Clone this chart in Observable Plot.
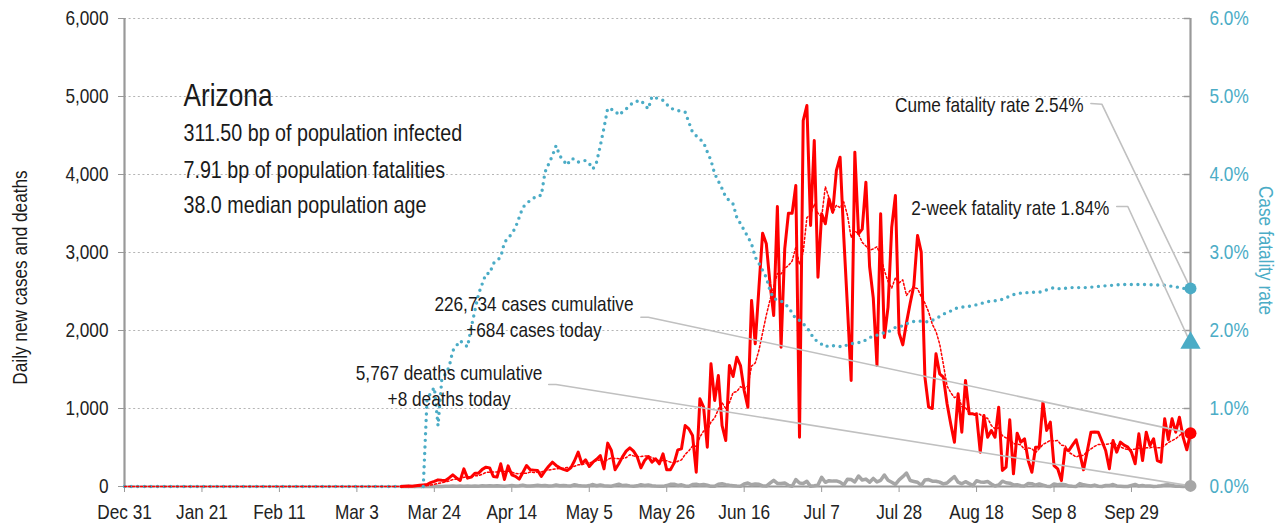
<!DOCTYPE html>
<html><head><meta charset="utf-8">
<script src="https://cdn.jsdelivr.net/npm/d3@7"></script>
<script src="https://cdn.jsdelivr.net/npm/@observablehq/plot@0.6"></script>
<style>html,body{margin:0;padding:0;background:#fff;} svg{display:block}</style>
</head><body><div id="chart"></div>
<script>
// ---------------- DATA ----------------
const seriesStart = "2020-03-15";
const dailyCases = [
  0, 2, 5, 4, 10,
  15, 20, 26, 50, 65,
  85, 80, 77, 110, 150,
  110, 77, 226, 107, 120,
  171, 171, 220, 248, 239,
  128, 120, 291, 90, 265,
  150, 130, 94, 180, 269,
  214, 210, 205, 128, 200,
  260, 312, 270, 239, 220,
  205, 239, 330, 440, 291,
  342, 256, 312, 350, 397,
  226, 556, 461, 214, 291,
  380, 453, 496, 453, 380,
  239, 333, 385, 312, 355,
  291, 419, 214, 214, 300,
  470, 483, 782, 739, 654,
  184, 1124, 1017, 504, 1573,
  1103, 1423, 782, 590, 1551,
  1410, 1658, 1551, 1231, 1017,
  2385, 1830, 2550, 3248, 3111,
  2600, 2192, 3590, 1786, 3050,
  3504, 3504, 3859, 632, 4692,
  4884, 3346, 4436, 2684, 3496,
  3368, 3688, 3517, 4051, 4222,
  3200, 2300, 1359, 4286, 3239,
  3300, 3901, 2820, 2415, 1551,
  3496, 1910, 2300, 3325, 3731,
  1966, 1816, 2100, 2350, 2577,
  3218, 3004, 1402, 1017, 1000,
  1701, 1445, 1402, 1060, 800,
  568, 1188, 696, 1359, 932,
  932, 915, 440, 910, 632,
  718, 632, 1017, 205, 248,
  855, 162, 684, 568, 611,
  333, 183, 504, 504, 1081,
  718, 825, 269, 227, 77,
  483, 461, 530, 598, 418,
  214, 450, 696, 700, 696,
  580, 461, 227, 590, 440,
  569, 530, 504, 440, 291,
  675, 333, 696, 525, 611,
  333, 312, 868, 600, 868,
  696, 889, 632, 470, 684
];
const dailyDeaths = [
  0,0,0,0,0,0,0,1,0,1,2,1,3,2,5,2,5,
  4,5,3,7,4,9,6,11,5,10,7,4,8,12,6,9,18,7,5,11,15,9,14,6,8,20,10,12,9,8,
  22,14,8,5,12,25,10,20,9,6,4,18,30,12,16,8,3,9,24,14,20,10,5,3,2,12,28,30,14,22,6,
  3,25,30,18,26,16,2,4,30,35,24,16,10,5,3,32,44,22,32,29,8,5,42,79,40,38,45,15,3,88,
  44,37,66,2,9,18,117,54,75,69,71,55,20,92,89,59,134,83,95,55,103,59,79,147,80,54,27,86,126,172,76,
  65,54,14,84,89,68,67,56,33,45,88,127,55,35,62,37,11,74,59,55,64,33,6,20,68,48,43,20,23,9,8,
  40,36,16,33,18,4,0,31,23,29,24,5,2,1,38,22,14,6,18,3,0,13,12,25,7,4,1,0,14,26,
  6,12,5,6,1,2,9,18,22,13,4,2,0,3,8
];
const cfrDates = [
  "2020-03-21","2020-03-22","2020-03-23","2020-03-24","2020-03-25","2020-03-26","2020-03-28","2020-03-29",
  "2020-03-31","2020-04-02","2020-04-03","2020-04-05","2020-04-07","2020-04-08","2020-04-09","2020-04-11",
  "2020-04-12","2020-04-14","2020-04-15","2020-04-17","2020-04-19","2020-04-21","2020-04-22","2020-04-23",
  "2020-04-25","2020-04-26","2020-04-27","2020-04-29","2020-04-30","2020-05-01","2020-05-02","2020-05-04",
  "2020-05-05","2020-05-06","2020-05-07","2020-05-08","2020-05-09","2020-05-10","2020-05-12","2020-05-13",
  "2020-05-15","2020-05-17","2020-05-19","2020-05-21","2020-05-22","2020-05-25","2020-05-27","2020-05-29",
  "2020-05-31","2020-06-02","2020-06-05","2020-06-06","2020-06-07","2020-06-08","2020-06-10","2020-06-11",
  "2020-06-13","2020-06-14","2020-06-15","2020-06-17","2020-06-18","2020-06-19","2020-06-20","2020-06-22",
  "2020-06-23","2020-06-24","2020-06-26","2020-06-28","2020-06-30","2020-07-01","2020-07-03","2020-07-05",
  "2020-07-08","2020-07-09","2020-07-11","2020-07-13","2020-07-14","2020-07-16","2020-07-18","2020-07-20",
  "2020-07-22","2020-07-23","2020-07-25","2020-07-27","2020-07-29","2020-07-31","2020-08-02","2020-08-03",
  "2020-08-05","2020-08-07","2020-08-09","2020-08-11","2020-08-12","2020-08-14","2020-08-16","2020-08-18",
  "2020-08-21","2020-08-23","2020-08-25","2020-08-28","2020-08-30","2020-09-02","2020-09-04","2020-09-06",
  "2020-09-08","2020-09-10","2020-09-12","2020-09-17","2020-09-21","2020-09-24","2020-09-26","2020-10-02",
  "2020-10-08","2020-10-11","2020-10-13","2020-10-15"
];
const cfrValues = [
  0, 1.1, 1.2, 1.27, 0.78, 1.36, 1.53, 1.74,
  1.87, 1.79, 2.04, 2.47, 2.73, 2.73, 2.86, 2.94,
  3.13, 3.24, 3.32, 3.58, 3.67, 3.73, 3.73, 4.03,
  4.24, 4.37, 4.24, 4.12, 4.2, 4.2, 4.16, 4.18,
  4.14, 4.07, 4.16, 4.37, 4.6, 4.85, 4.82, 4.76,
  4.84, 4.93, 4.95, 4.84, 5.0, 4.95, 4.85, 4.82,
  4.8, 4.54, 4.41, 4.29, 4.18, 4.01, 3.82, 3.71,
  3.62, 3.45, 3.37, 3.2, 3.11, 2.94, 2.86, 2.68,
  2.51, 2.41, 2.38, 2.30, 2.15, 2.13, 2.04, 1.89,
  1.79, 1.81, 1.80, 1.79, 1.82, 1.84, 1.85, 1.91,
  1.94, 1.96, 1.98, 2.04, 2.06, 2.11, 2.12, 2.12,
  2.11, 2.15, 2.21, 2.25, 2.28, 2.30, 2.31, 2.33,
  2.37, 2.38, 2.40, 2.46, 2.48, 2.49, 2.49, 2.52,
  2.55, 2.53, 2.55, 2.55, 2.57, 2.58, 2.59, 2.59,
  2.58, 2.56, 2.54, 2.54
];
const xTickDates = ["2019-12-31","2020-01-21","2020-02-11","2020-03-03","2020-03-24","2020-04-14","2020-05-05",
  "2020-05-26","2020-06-16","2020-07-07","2020-07-28","2020-08-18","2020-09-08","2020-09-29"];
const xTickLabels = ["Dec 31","Jan 21","Feb 11","Mar 3","Mar 24","Apr 14","May 5",
  "May 26","Jun 16","Jul 7","Jul 28","Aug 18","Sep 8","Sep 29"];
const yTicks = [0, 1000, 2000, 3000, 4000, 5000, 6000];
const yTickLabels = ["0","1,000","2,000","3,000","4,000","5,000","6,000"];
const rightTickLabels = ["0.0%","1.0%","2.0%","3.0%","4.0%","5.0%","6.0%"];
const infoLines = ["Arizona","311.50 bp of population infected","7.91 bp of population fatalities","38.0 median population age"];
const casesCumulativeText = "226,734 cases cumulative";
const casesTodayText = "+684 cases today";
const deathsCumulativeText = "5,767 deaths cumulative";
const deathsTodayText = "+8 deaths today";
const cumeRateText = "Cume fatality rate 2.54%";
const twoWeekRateText = "2-week fatality rate 1.84%";
const cumeRate = 2.54, twoWeekRate = 1.84, casesToday = 684, deathsToday = 8;

// ---------------- BUILD ----------------
const FONT = '"Liberation Sans",Arial,sans-serif';
const NARROW = 0.82; // Arial-Narrow-like horizontal condensing
const RED = "#ff0000", BLUE = "#4bacc6", GRAY = "#a6a6a6", AXIS = "#999999", INK = "#1a1a1a";
const D = s => new Date(s);
const xStart = D("2019-12-31"), xEnd = D("2020-10-15");
const start = D(seriesStart);
const rows = dailyCases.map((v, i) => ({date: d3.utcDay.offset(start, i), cases: v, deaths: dailyDeaths[i]}));
const cfrRows = cfrDates.map((d, i) => ({date: D(d), cfr: cfrValues[i] * 1000}));
const leadIn = [{date: xStart, v: 0}, {date: start, v: 0}];
const leadInCfr = [{date: xStart, v: 0}, {date: D(cfrDates[0]), v: 0}];
const tickLabelMap = new Map(xTickDates.map((d, i) => [+D(d), xTickLabels[i]]));
const yLabelMap = new Map(yTicks.map((d, i) => [d, yTickLabels[i]]));
const rLabelMap = new Map(yTicks.map((d, i) => [d, rightTickLabels[i]]));

// annotation layout (data coordinates)
const info = infoLines.map((t, i) => ({t, date: D("2020-01-16"), v: [5010, 4530, 4050, 3600][i], size: i === 0 ? 32 : 24}));
const rateNotes = [
  {t: cumeRateText, date: D("2020-09-16"), v: 4885},
  {t: twoWeekRateText, date: D("2020-09-23"), v: 3565}
];
const countNotes = [
  {t: casesCumulativeText, date: D("2020-04-20"), v: 2335},
  {t: casesTodayText, date: D("2020-04-20"), v: 2000},
  {t: deathsCumulativeText, date: D("2020-03-28"), v: 1450},
  {t: deathsTodayText, date: D("2020-03-28"), v: 1115}
];
const leaders = [
  {id: "cume", date: D("2020-09-18"), v: 4910}, {id: "cume", date: D("2020-09-21"), v: 4900}, {id: "cume", date: xEnd, v: cumeRate * 1000},
  {id: "two", date: D("2020-09-25"), v: 3590}, {id: "two", date: D("2020-09-28"), v: 3590}, {id: "two", date: xEnd, v: twoWeekRate * 1000},
  {id: "cases", date: D("2020-05-19"), v: 2170}, {id: "cases", date: D("2020-05-21"), v: 2170}, {id: "cases", date: xEnd, v: casesToday},
  {id: "deaths", date: D("2020-04-24"), v: 1308}, {id: "deaths", date: D("2020-04-26"), v: 1308}, {id: "deaths", date: xEnd, v: deathsToday}
];

const chart = Plot.plot({
  width: 1284, height: 529,
  marginLeft: 124, marginRight: 94, marginTop: 18, marginBottom: 43,
  style: {fontFamily: FONT, fontSize: "21px", color: INK, background: "#fff", overflow: "visible"},
  x: {type: "utc", domain: [xStart, xEnd]},
  y: {domain: [0, 6000]},
  marks: [
    Plot.gridY(yTicks.slice(1), {stroke: "#b5b5b5", strokeOpacity: 1, strokeDasharray: "2,2.6", strokeWidth: 1.2}),
    Plot.ruleY(yTicks.slice(1), {x1: d3.utcHour.offset(xEnd, -40), x2: xEnd, stroke: AXIS, strokeWidth: 1.5}),
    Plot.axisY(yTicks, {anchor: "left", tickSize: 6, tickPadding: 10, tickFormat: d => yLabelMap.get(d), stroke: AXIS, fill: "#222", label: null, fontSize: 21}),
    Plot.axisY(yTicks, {anchor: "right", tickSize: 0, tickPadding: 19, tickFormat: d => rLabelMap.get(d), stroke: AXIS, fill: BLUE, label: null, fontSize: 21}),
    Plot.axisX(xTickDates.map(D), {tickSize: 6, tickPadding: 12, tickFormat: d => tickLabelMap.get(+d), stroke: AXIS, fill: "#222", label: null, fontSize: 21}),
    Plot.ruleY([0], {stroke: AXIS, strokeWidth: 2}),
    Plot.ruleX([xStart, xEnd], {stroke: AXIS, strokeWidth: 2.2}),
    Plot.lineY(leadInCfr, {x: "date", y: "v", stroke: BLUE, strokeWidth: 3.4, strokeLinecap: "round", strokeDasharray: "0,6.6"}),
    Plot.lineY(rows, {x: "date", y: "deaths", stroke: GRAY, strokeWidth: 3.5, strokeLinejoin: "round"}),
    Plot.lineY(leadIn, {x: "date", y: "v", stroke: RED, strokeWidth: 1.4, strokeDasharray: "2,2"}),
    Plot.lineY(rows, Plot.windowY({k: 7, anchor: "end"}, {x: "date", y: "cases", stroke: RED, strokeWidth: 1.5, strokeDasharray: "2,2.2"})),
    Plot.lineY(rows, {x: "date", y: "cases", stroke: RED, strokeWidth: 3, strokeLinejoin: "round"}),
    Plot.lineY(cfrRows, {x: "date", y: "cfr", stroke: BLUE, strokeWidth: 3.4, strokeLinecap: "round", strokeDasharray: "0,6.6"}),
    Plot.line(leaders, {x: "date", y: "v", z: "id", stroke: "#c0c0c0", strokeWidth: 1.6}),
    Plot.dot([{date: xEnd, v: cumeRate * 1000}], {x: "date", y: "v", r: 6, fill: BLUE}),
    Plot.dot([{date: xEnd, v: twoWeekRate * 1000}], {x: "date", y: "v", r: 7.5, symbol: "triangle", fill: BLUE}),
    Plot.dot([{date: xEnd, v: casesToday}], {x: "date", y: "v", r: 6, fill: RED}),
    Plot.dot([{date: xEnd, v: deathsToday}], {x: "date", y: "v", r: 6, fill: GRAY}),
    Plot.text(info, {x: "date", y: "v", text: "t", fontSize: "size", textAnchor: "start", fill: INK}),
    Plot.text(rateNotes, {x: "date", y: "v", text: "t", textAnchor: "end", fontSize: 21, fill: INK}),
    Plot.text(countNotes, {x: "date", y: "v", text: "t", textAnchor: "middle", fontSize: 21, fill: INK}),
    Plot.text(["Daily new cases and deaths"], {frameAnchor: "left", textAnchor: "middle", dx: -104, dy: 25, rotate: -90, fontSize: 21, fill: INK}),
    Plot.text(["Case fatality rate"], {frameAnchor: "right", textAnchor: "middle", dx: 75, dy: -2, rotate: 90, fontSize: 21, fill: BLUE})
  ]
});
document.getElementById("chart").appendChild(chart);
// condense every text horizontally, like a narrow typeface
chart.querySelectorAll("text").forEach(t => {
  const parts = t.querySelectorAll("tspan");
  (parts.length ? Array.from(parts) : [t]).forEach(el => {
    const L = el.getComputedTextLength();
    if (L > 0) { el.setAttribute("textLength", (L * NARROW).toFixed(2)); el.setAttribute("lengthAdjust", "spacingAndGlyphs"); }
  });
});
</script>
</body></html>
